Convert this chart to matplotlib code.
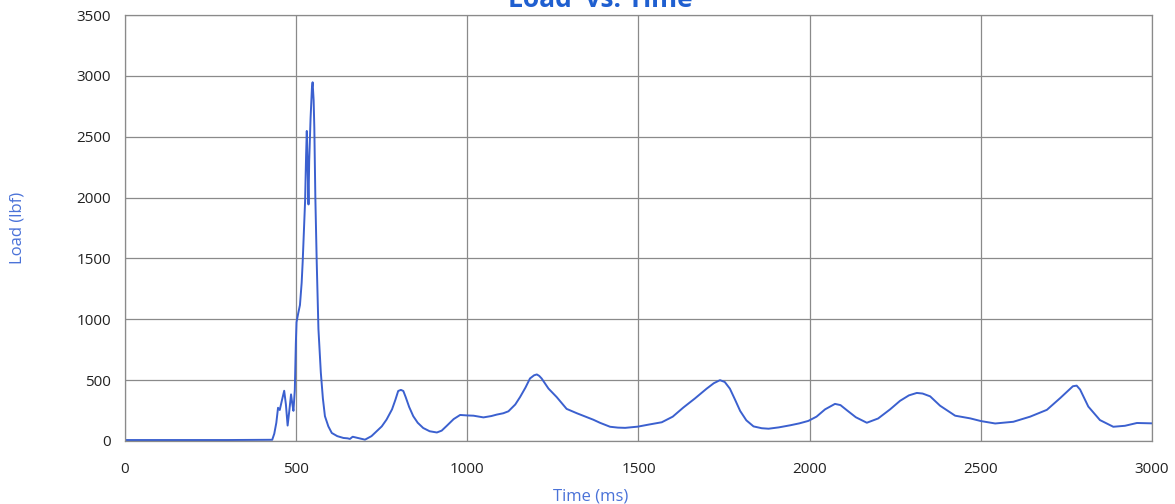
import matplotlib
matplotlib.use("Agg")
import matplotlib.pyplot as plt

# Load trace sampled from the test record
time_ms = [0, 100, 200, 300, 400, 430, 436, 442, 447, 452, 458, 465, 470, 475, 480,
           485, 489, 492, 496, 499, 501, 506, 511, 516, 519, 523, 526, 529, 531, 534,
           536, 538, 542, 546, 548, 551, 553, 556, 560, 565, 572, 578, 584, 594, 604,
           620, 638, 650, 657, 665, 680, 701, 720, 735, 750, 764, 780, 790, 798, 806,
           813, 820, 830, 842, 855, 871, 890, 911, 925, 940, 960, 979, 1000, 1018, 1047,
           1070, 1086, 1105, 1120, 1140, 1154, 1170, 1183, 1195, 1203, 1210, 1217, 1237,
           1261, 1290, 1320, 1368, 1388, 1417, 1440, 1461, 1498, 1530, 1568, 1600, 1631,
           1665, 1699, 1720, 1738, 1752, 1767, 1782, 1797, 1815, 1836, 1860, 1880, 1910,
           1943, 1970, 1996, 2020, 2045, 2074, 2090, 2110, 2135, 2167, 2200, 2235, 2264,
           2290, 2313, 2330, 2352, 2381, 2425, 2469, 2500, 2542, 2595, 2644, 2693, 2732,
           2769, 2780, 2790, 2814, 2848, 2887, 2921, 2956, 3000]
load_lbf = [8, 8, 8, 8, 9, 10, 60, 150, 273, 255, 330, 413, 300, 127, 250,
            383, 300, 248, 420, 800, 976, 1050, 1117, 1300, 1472, 1750, 1968, 2350, 2548, 2200,
            1944, 2300, 2650, 2900, 2948, 2800, 2575, 2000, 1472, 921, 562, 350, 204, 120, 66,
            40, 25, 22, 17, 35, 25, 11, 40, 80, 120, 176, 260, 340, 411, 420,
            411, 360, 280, 204, 150, 107, 80, 70, 85, 125, 180, 214, 210, 208, 194,
            205, 217, 228, 244, 300, 361, 440, 514, 540, 547, 535, 514, 431,
            361, 264, 228, 175, 149, 117, 110, 108, 118, 135, 154, 200, 275,
            350, 430, 475, 500, 485, 430, 340, 247, 170, 120, 105, 101, 112,
            129, 145, 165, 200, 260, 305, 295, 250, 195, 150, 185, 260, 330,
            375, 395, 390, 367, 290, 208, 186, 164, 144, 158, 200, 256, 353,
            450, 455, 423, 283, 172, 117, 125, 148, 145]

x_ticks = [0, 500, 1000, 1500, 2000, 2500, 3000]
y_ticks = [0, 500, 1000, 1500, 2000, 2500, 3000, 3500]

plt.rcParams['font.family'] = ['Open Sans', 'DejaVu Sans']

fig = plt.figure(figsize=(11.75, 5.04), dpi=100)
ax = fig.add_axes([0.1064, 0.125, 0.874, 0.845])

ax.plot(time_ms, load_lbf, color='#3b60cf', linewidth=1.4)

ax.set_xlim(0, 3000)
ax.set_ylim(0, 3500)
ax.set_xticks(x_ticks)
ax.set_yticks(y_ticks)
ax.tick_params(axis='both', length=0, labelsize=11, labelcolor='#222222')
ax.tick_params(axis='x', pad=15)
ax.tick_params(axis='y', pad=10)

ax.grid(True, color='#8a8a8a', linewidth=0.9)
for s in ax.spines.values():
    s.set_color('#8a8a8a')
    s.set_linewidth(0.9)

label_blue = '#4a72d8'
ax.set_xlabel('Time (ms)', color=label_blue, fontsize=12)
ax.xaxis.set_label_coords(0.453, -0.112)
ax.set_ylabel('Load (lbf)', color=label_blue, fontsize=12)
ax.yaxis.set_label_coords(-0.097, 0.5)

fig.text(600 / 1175, 1 - 7 / 504, 'Load  vs. Time', color='#1f5fd0', fontsize=19,
         fontweight='bold', ha='center', va='baseline')

fig.savefig('out.png', dpi=100, facecolor='white')
